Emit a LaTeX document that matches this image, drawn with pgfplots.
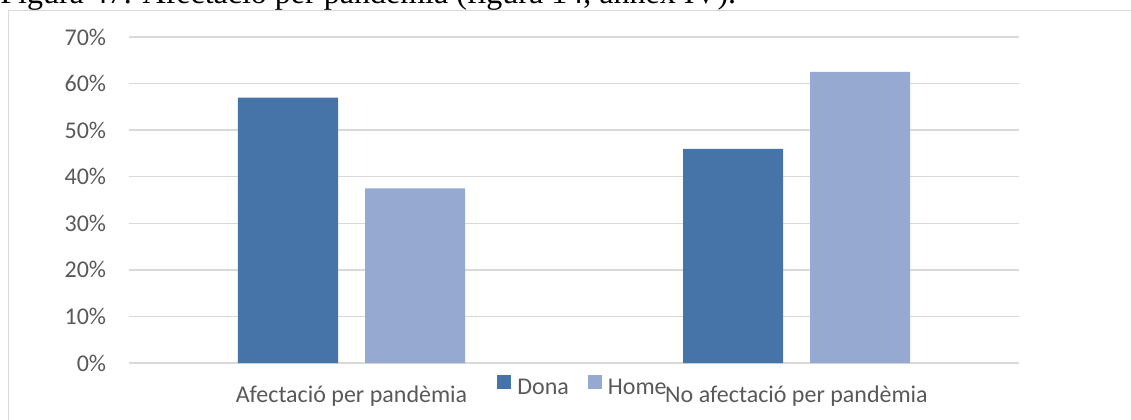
\documentclass[border=0pt]{standalone}
\usepackage{fontspec}
\setmainfont{Carlito}
\newfontfamily\capfont{Liberation Serif}
\usepackage{pgfplots}
\pgfplotsset{compat=1.18}
\definecolor{dona}{HTML}{4674A8}
\definecolor{home}{HTML}{95A9D1}
\definecolor{gridc}{HTML}{D9D9D9}
\definecolor{txt}{HTML}{595959}
\newcommand{\px}[2]{({((#1)-129)*0.5pt},{(363-(#2))*0.5pt})}
\pgfplotsset{sqlegend/.style={legend image code/.code={\fill[##1] (0pt,0pt) rectangle (7pt,7pt);}}}
\begin{document}
\begin{tikzpicture}
\useasboundingbox \px{0}{419} rectangle \px{1131}{0};
\begin{axis}[
  at={(0,0)}, anchor=south west,
  scale only axis, width=445pt, height=163pt,
  ybar=13.5pt, bar width=50pt,
  xmin=-0.5, xmax=1.5, ymin=0, ymax=70,
  xtick={0,1}, xticklabels={Afectació per pandèmia, No afectació per pandèmia},
  ytick={0,10,...,70},
  yticklabel={\pgfmathprintnumber[assume math mode=true]{\tick}\%},
  axis line style={draw=none},
  major tick length=0pt,
  ymajorgrids, major grid style={draw=gridc, line width=0.75pt},
  tick label style={font=\fontsize{12}{14}\selectfont, text=txt},
  yticklabel style={anchor=east, inner sep=0pt, xshift=-11.25pt},
  xticklabel style={anchor=base, inner sep=0pt, yshift=-19.5pt},
  legend style={at={(0.41348,-0.0715)}, anchor=west, draw=none, fill=none, legend columns=2, font=\fontsize{12}{14}\selectfont, text=txt, inner sep=0pt, nodes={inner sep=0pt}, /tikz/every odd column/.append style={column sep=3pt}, /tikz/every even column/.append style={column sep=9.5pt}},
  clip=false,
]
\addplot[fill=dona, draw=none, sqlegend] coordinates {(0,57) (1,46)};
\addplot[fill=home, draw=none, sqlegend] coordinates {(0,37.5) (1,62.5)};
\legend{Dona, Home}
\end{axis}
\draw[gridc, line width=0.75pt] \px{8.5}{430} -- \px{8.5}{10.5} -- \px{1140}{10.5};
\node[font=\capfont\fontsize{16}{19}\selectfont, anchor=base west, inner sep=0pt] at \px{0}{3.5} {Figura 47. Afectació per pandèmia (figura 14, annex IV).};
\end{tikzpicture}
\end{document}
